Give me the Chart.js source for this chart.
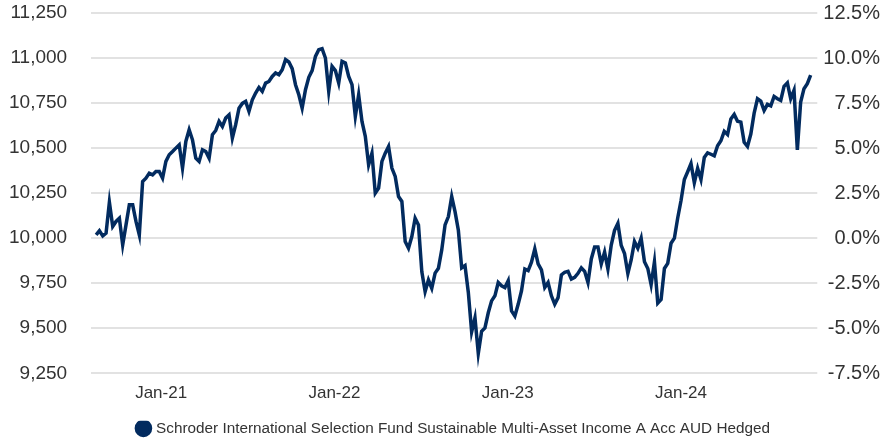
<!DOCTYPE html>
<html>
<head>
<meta charset="utf-8">
<script src="https://cdn.jsdelivr.net/npm/chart.js@4.4.1/dist/chart.umd.min.js"></script>
<style>
  html, body { margin: 0; padding: 0; background: #fff; }
  #wrap { width: 893px; height: 442px; position: relative; }
</style>
</head>
<body>
<div id="wrap"><canvas id="chart"></canvas></div>
<script>
// weekly values, first week starting 17 Aug 2020
const startDate = Date.UTC(2020, 7, 17);
const seriesName = "Schroder International Selection Fund Sustainable Multi-Asset Income A Acc AUD Hedged";
const fundValues = [
  10018, 10041, 10013, 10028, 10200, 10065, 10093, 10111, 9963, 10074,
  10185, 10185, 10093, 10018, 10315, 10333, 10361, 10352, 10370, 10370,
  10333, 10426, 10463, 10481, 10500, 10518, 10389, 10537, 10602, 10546,
  10444, 10426, 10491, 10481, 10444, 10574, 10598, 10648, 10620, 10667,
  10685, 10556, 10630, 10722, 10748, 10759, 10704, 10768, 10806, 10837,
  10815, 10861, 10870, 10898,
  10917, 10907, 10935, 10991, 10978, 10941, 10852, 10796, 10722, 10824,
  10893, 10930, 11009, 11046, 11052, 11000, 10815, 10954, 10930, 10861,
  10981, 10972, 10898, 10852, 10676, 10796, 10648, 10565, 10407, 10472,
  10250, 10278, 10426, 10472, 10509, 10389, 10343, 10231, 10204, 9981,
  9944, 10009, 10111, 10074, 9815, 9704, 9768, 9722, 9806, 9833,
  9935, 10074, 10120,
  10231, 10147, 10044, 9835, 9848, 9699, 9480, 9558, 9360, 9483,
  9502, 9586, 9652, 9680, 9754, 9736, 9726, 9764, 9596, 9568,
  9633, 9708, 9829, 9820, 9867, 9941, 9857, 9824, 9726, 9754,
  9680, 9633, 9670, 9796, 9811, 9816, 9773, 9783, 9805, 9835,
  9816, 9754, 9885, 9951, 9951, 9857, 9923, 9829, 9962, 10044,
  10082, 9960,
  9915, 9804, 9879, 9981, 9944, 10000, 9869, 9832, 9742, 9869,
  9640, 9660, 9832, 9860, 9972, 10000, 10112, 10209, 10326, 10369,
  10414, 10308, 10388, 10326, 10448, 10474, 10466, 10457, 10513, 10541,
  10593, 10575, 10662, 10687, 10649, 10644, 10532, 10509, 10578, 10694,
  10774, 10761, 10709, 10743, 10735, 10787, 10774, 10765, 10843, 10862,
  10774, 10821, 10490, 10756, 10830, 10858, 10905
];
const xTickDates = ["2021-01-01", "2022-01-01", "2023-01-01", "2024-01-01"];
const xTickLabels = ["Jan-21", "Jan-22", "Jan-23", "Jan-24"];
const baseValue = 10000;

const navy = "#022b5f";
const textColor = "#333333";
const fontFamily = "'Liberation Sans', Arial, sans-serif";
const WEEK = 7 * 86400000;

const weekOf = (iso) => (Date.parse(iso + "T00:00:00Z") - startDate) / WEEK;
const points = fundValues.map((v, i) => ({ x: i, y: v }));

// centre the legend under the plot area rather than the whole canvas
const legendUnderPlot = {
  id: "legendUnderPlot",
  afterLayout(chart) {
    if (chart.legend) {
      chart.legend.left = chart.chartArea.left;
      chart.legend.right = chart.chartArea.right;
    }
  },
};

new Chart(document.getElementById("chart"), {
  type: "line",
  data: {
    datasets: [
      {
        label: seriesName,
        data: points,
        borderColor: navy,
        backgroundColor: navy,
        borderWidth: 3.5,
        pointRadius: 0,
        pointStyle: "circle",
        tension: 0,
        yAxisID: "y",
      },
    ],
  },
  plugins: [legendUnderPlot],
  options: {
    responsive: true,
    maintainAspectRatio: false,
    animation: false,
    layout: { padding: { left: 9, right: 13, top: 13, bottom: -4 } },
    plugins: {
      legend: {
        position: "bottom",
        labels: {
          usePointStyle: true,
          pointStyle: "circle",
          boxWidth: 10,
          boxHeight: 10,
          padding: 0,
          color: textColor,
          font: { family: fontFamily, size: 15.3 },
        },
      },
      tooltip: { enabled: false },
    },
    scales: {
      x: {
        type: "linear",
        min: -1.5,
        max: 217,
        grid: { display: false, drawTicks: false },
        border: { display: false },
        afterBuildTicks: (scale) => {
          scale.ticks = xTickDates.map((d) => ({ value: weekOf(d) }));
        },
        afterFit: (scale) => {
          scale.height += 7;
        },
        ticks: {
          autoSkip: false,
          maxRotation: 0,
          padding: 10,
          color: textColor,
          font: { family: fontFamily, size: 17 },
          callback: (val, idx) => xTickLabels[idx],
        },
      },
      y: {
        position: "left",
        min: 9250,
        max: 11250,
        grid: { color: "#e2e2e2", lineWidth: 2, drawTicks: true, tickLength: 24, tickColor: "rgba(0,0,0,0)" },
        border: { display: false },
        ticks: {
          stepSize: 250,
          padding: 0,
          color: textColor,
          font: { family: fontFamily, size: 19 },
          callback: (v) => v.toLocaleString("en-US"),
        },
      },
      y2: {
        position: "right",
        min: ((9250 - baseValue) / baseValue) * 100,
        max: ((11250 - baseValue) / baseValue) * 100,
        grid: { drawOnChartArea: false, drawTicks: true, tickLength: 6, tickColor: "rgba(0,0,0,0)" },
        border: { display: false },
        ticks: {
          stepSize: 2.5,
          padding: 0,
          crossAlign: "far",
          color: textColor,
          font: { family: fontFamily, size: 20 },
          callback: (v) => v.toFixed(1) + "%",
        },
      },
    },
  },
});
</script>
</body>
</html>
